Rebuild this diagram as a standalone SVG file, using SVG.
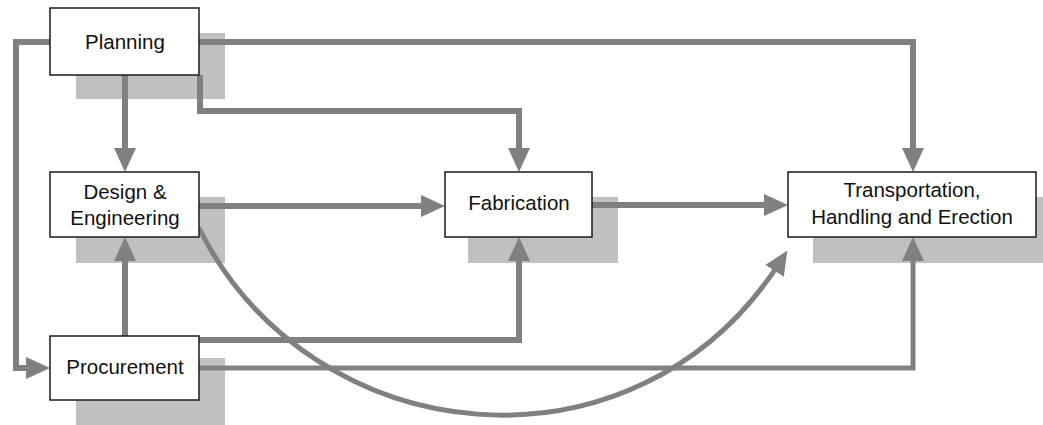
<svg xmlns="http://www.w3.org/2000/svg" width="1043" height="425" viewBox="0 0 1043 425">
<style>
.shadow{fill:#c0c0c0}
.box{fill:#fff;stroke:#1a1a1a;stroke-width:1.5}
.lbl{font-family:"Liberation Sans",Arial,sans-serif;font-size:20.5px;fill:#111;text-anchor:middle}
.conn{fill:none;stroke:#808080;stroke-width:6;stroke-linejoin:miter}
.thin{stroke-width:5}
</style>
<defs>
<marker id="arr" markerUnits="userSpaceOnUse" markerWidth="24" markerHeight="24" viewBox="0 0 24 24" refX="14" refY="12" orient="auto">
<path d="M0,1 L24,12 L0,23 z" fill="#808080"/>
</marker>
</defs>
<rect width="1043" height="425" fill="#fff"/>
<g id="shadows">
<rect class="shadow" x="76" y="33" width="149" height="66"/>
<rect class="shadow" x="76" y="197" width="149" height="66"/>
<rect class="shadow" x="76" y="358" width="149" height="67"/>
<rect class="shadow" x="468" y="197" width="150" height="66"/>
<rect class="shadow" x="813" y="197" width="230" height="66"/>
</g>
<g id="connectors">
<path class="conn" d="M199 42 H913 V162" marker-end="url(#arr)"/>
<path class="conn" d="M50 42 H16 V368 H40" marker-end="url(#arr)"/>
<path class="conn" d="M125 75 V162" marker-end="url(#arr)"/>
<path class="conn" d="M200 75 V111 H519 V162" marker-end="url(#arr)"/>
<path class="conn" d="M199 206 H435" marker-end="url(#arr)"/>
<path class="conn" d="M592 205 H778" marker-end="url(#arr)"/>
<path class="conn" d="M125 336 V247" marker-end="url(#arr)"/>
<path class="conn" d="M199 340 H519 V247" marker-end="url(#arr)"/>
<path class="conn thin" d="M199 368 H913 V247" marker-end="url(#arr)"/>
<path class="conn thin" d="M199 228 C310 452, 636 490, 782 259" marker-end="url(#arr)"/>
</g>
<g id="planning">
<rect class="box" x="50" y="8" width="149" height="67"/>
<text class="lbl" x="125" y="49">Planning</text>
</g>
<g id="design">
<rect class="box" x="50" y="172" width="149" height="65"/>
<text class="lbl" x="125" y="199">Design &amp;</text>
<text class="lbl" x="125" y="225">Engineering</text>
</g>
<g id="procurement">
<rect class="box" x="50" y="336" width="149" height="64"/>
<text class="lbl" x="125" y="374">Procurement</text>
</g>
<g id="fabrication">
<rect class="box" x="445" y="172" width="147" height="65"/>
<text class="lbl" x="519" y="210">Fabrication</text>
</g>
<g id="transport">
<rect class="box" x="788" y="172" width="248" height="65"/>
<text class="lbl" x="912" y="197">Transportation,</text>
<text class="lbl" x="912" y="224">Handling and Erection</text>
</g>
</svg>
